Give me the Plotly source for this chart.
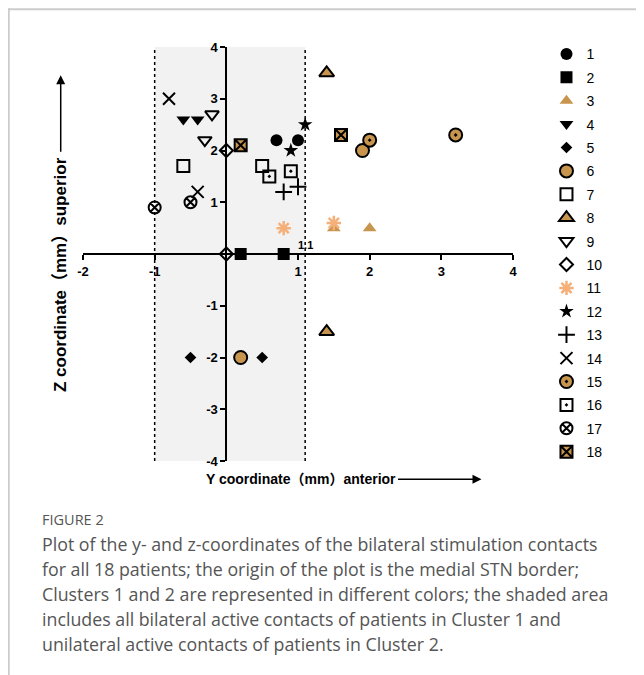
import plotly.graph_objects as go

# ---------------- data ----------------
patients = [str(i) for i in range(1, 19)]
y_coords = [
    [0.7, 1.0],    # 1
    [0.2, 0.8],    # 2
    [1.5, 2.0],    # 3
    [-0.6, -0.4],  # 4
    [-0.5, 0.5],   # 5
    [1.9, 0.2],    # 6
    [-0.6, 0.5],   # 7
    [1.4, 1.4],    # 8
    [-0.2, -0.3],  # 9
    [0.0, 0.0],    # 10
    [0.8, 1.5],    # 11
    [0.9, 1.1],    # 12
    [0.8, 1.0],    # 13
    [-0.8, -0.4],  # 14
    [2.0, 3.2],    # 15
    [0.6, 0.9],    # 16
    [-1.0, -0.5],  # 17
    [0.2, 1.6],    # 18
]
z_coords = [
    [2.2, 2.2],
    [0.0, 0.0],
    [0.5, 0.5],
    [2.6, 2.6],
    [-2.0, -2.0],
    [2.0, -2.0],
    [1.7, 1.7],
    [3.5, -1.5],
    [2.7, 2.2],
    [2.0, 0.0],
    [0.5, 0.6],
    [2.0, 2.5],
    [1.2, 1.3],
    [3.0, 1.2],
    [2.2, 2.3],
    [1.5, 1.6],
    [0.9, 1.0],
    [2.1, 2.3],
]
x_tick_vals = [-2, -1, 0, 1, 2, 3, 4]
x_tick_text = ["-2", "-1", "", "1", "2", "3", "4"]
y_tick_vals = [-4, -3, -2, -1, 0, 1, 2, 3, 4]
y_tick_text = ["-4", "-3", "-2", "-1", "", "1", "2", "3", "4"]
shade_bounds = [-1.0, 1.1]
border_label = "1.1"

x_title = "Y coordinate（mm）anterior"
y_title = "Z coordinate（mm）superior"
fig_label = "FIGURE 2"
caption_lines = [
    "Plot of the y- and z-coordinates of the bilateral stimulation contacts",
    "for all 18 patients; the origin of the plot is the medial STN border;",
    "Clusters 1 and 2 are represented in different colors; the shaded area",
    "includes all bilateral active contacts of patients in Cluster 1 and",
    "unilateral active contacts of patients in Cluster 2.",
]

# ---------------- styles ----------------
TAN = "#c8954f"
LIGHT = "#f5b07a"
BLK = "black"
styles = [
    dict(symbol="circle", size=12, color=BLK, line=dict(width=0, color=BLK)),
    dict(symbol="square", size=12, color=BLK, line=dict(width=0, color=BLK)),
    dict(symbol="triangle-up", size=12, color=TAN, line=dict(width=0, color=TAN)),
    dict(symbol="triangle-down", size=12, color=BLK, line=dict(width=0, color=BLK)),
    dict(symbol="diamond", size=9, color=BLK, line=dict(width=0, color=BLK)),
    dict(symbol="circle", size=13, color=TAN, line=dict(width=2, color=BLK)),
    dict(symbol="square-open", size=12, color=BLK, line=dict(width=2, color=BLK)),
    dict(symbol="triangle-up", size=13, color=TAN, line=dict(width=2, color=BLK)),
    dict(symbol="triangle-down-open", size=12, color=BLK, line=dict(width=2, color=BLK)),
    dict(symbol="diamond-open", size=10, color=BLK, line=dict(width=2, color=BLK)),
    dict(symbol="asterisk-open", size=12, color=LIGHT, line=dict(width=2.5, color=LIGHT)),
    dict(symbol="star", size=11, color=BLK, line=dict(width=0, color=BLK)),
    dict(symbol="cross-thin-open", size=12, color=BLK, line=dict(width=2, color=BLK)),
    dict(symbol="x-thin-open", size=12, color=BLK, line=dict(width=2, color=BLK)),
    dict(symbol="circle-dot", size=13, color=TAN, line=dict(width=2, color=BLK)),
    dict(symbol="square-open-dot", size=12, color=BLK, line=dict(width=2, color=BLK)),
    dict(symbol="circle-x-open", size=12, color=BLK, line=dict(width=2, color=BLK)),
    dict(symbol="square-x", size=12, color=TAN, line=dict(width=2, color=BLK)),
]

# ---------------- layout geometry (reference-page pixels) ----------------
W, H = 644, 675
OFF = 8  # the page body margin
L, R, T, B = 83.3 - OFF, 513.5 - OFF, 46.7 - OFF, 460.7 - OFF
PW, PH = R - L, B - T


def px(x):
    return (x - OFF - L) / PW


def py(y):
    return (B - (y - OFF)) / PH


fig = go.Figure()

for name, xs, zs, st in zip(patients, y_coords, z_coords, styles):
    fig.add_trace(go.Scatter(
        x=xs, y=zs, mode="markers", name=name, legendgroup=name,
        marker=dict(symbol=st["symbol"], size=st["size"], color=st["color"],
                    line=st["line"]),
        cliponaxis=False,
    ))

AX_FONT = dict(family="Liberation Sans, Arial, Noto Sans CJK SC", size=13, color="black")
CAP_FONT = "Open Sans, Noto Sans"

shapes = [
    dict(type="rect", xref="x", yref="y", x0=shade_bounds[0], x1=shade_bounds[1],
         y0=-4, y1=4, fillcolor="#f2f2f2", line=dict(width=0), layer="below"),
    dict(type="line", xref="x", yref="y", x0=shade_bounds[0], x1=shade_bounds[0],
         y0=-4, y1=4, line=dict(color="black", width=1.5, dash="dot"), layer="below"),
    dict(type="line", xref="x", yref="y", x0=shade_bounds[1], x1=shade_bounds[1],
         y0=-4, y1=4, line=dict(color="black", width=1.5, dash="dot"), layer="below"),
    # page frame
    dict(type="line", xref="paper", yref="paper", x0=px(8), x1=px(660), y0=py(9), y1=py(9),
         line=dict(color="#cccccc", width=2)),
    dict(type="line", xref="paper", yref="paper", x0=px(9), x1=px(9), y0=py(8), y1=py(690),
         line=dict(color="#cccccc", width=2)),
]

annotations = [
    dict(text="<b>%s</b>" % border_label, x=shade_bounds[1], y=0, xref="x", yref="y",
         showarrow=False, yanchor="bottom", yshift=1, font=dict(AX_FONT, size=11)),
    dict(text="<b>%s</b>" % x_title, x=px(204), y=py(479), xref="paper", yref="paper",
         xanchor="left", yanchor="middle", showarrow=False, font=dict(AX_FONT, size=14)),
    dict(text="", x=px(482), y=py(479), xref="paper", yref="paper",
         ax=-85, ay=0, axref="pixel", ayref="pixel", showarrow=True,
         arrowhead=2, arrowsize=1.2, arrowwidth=1.5, arrowcolor="black"),
    dict(text="<b>%s</b>" % y_title, x=px(61), y=py(274), xref="paper", yref="paper",
         textangle=-90, xanchor="center", yanchor="middle", showarrow=False,
         font=dict(AX_FONT, size=17)),
    dict(text="", x=px(61), y=py(75), xref="paper", yref="paper",
         ax=0, ay=78, axref="pixel", ayref="pixel", showarrow=True,
         arrowhead=2, arrowsize=1.2, arrowwidth=1.5, arrowcolor="black"),
    dict(text=fig_label, x=px(40), y=py(519), xref="paper", yref="paper",
         xanchor="left", yanchor="middle", showarrow=False,
         font=dict(family=CAP_FONT, size=14.5, color="#555555")),
]
for i, line in enumerate(caption_lines):
    annotations.append(dict(
        text=line, x=px(40), y=py(544 + 24.8 * i), xref="paper", yref="paper",
        xanchor="left", yanchor="middle", showarrow=False,
        font=dict(family=CAP_FONT, size=17.8, color="#555555")))

fig.update_layout(
    width=W, height=H,
    margin=dict(l=L, r=W - R, t=T, b=H - B, pad=0),
    plot_bgcolor="white", paper_bgcolor="white",
    showlegend=True,
    legend=dict(x=px(547), y=py(38), xanchor="left", yanchor="top",
                font=dict(family="Liberation Sans, Arial", size=14, color="black"),
                tracegroupgap=2.2, itemwidth=30, bgcolor="rgba(0,0,0,0)",
                maxheight=600),
    xaxis=dict(range=[-2, 4], anchor="free", position=0.5, showgrid=False,
               zeroline=False, showline=True, linecolor="black", linewidth=1.8,
               ticks="outside", ticklen=5, tickwidth=1.8, tickcolor="black",
               tickvals=x_tick_vals, ticktext=["<b>%s</b>" % t if t else "" for t in x_tick_text],
               tickfont=AX_FONT, fixedrange=True),
    yaxis=dict(range=[-4, 4], anchor="free", position=1 / 3, showgrid=False,
               zeroline=False, showline=True, linecolor="black", linewidth=1.8,
               ticks="outside", ticklen=5, tickwidth=1.8, tickcolor="black",
               tickvals=y_tick_vals, ticktext=["<b>%s</b>" % t if t else "" for t in y_tick_text],
               tickfont=AX_FONT, fixedrange=True),
    shapes=shapes,
    annotations=annotations,
)

fig.write_html("out.html")
